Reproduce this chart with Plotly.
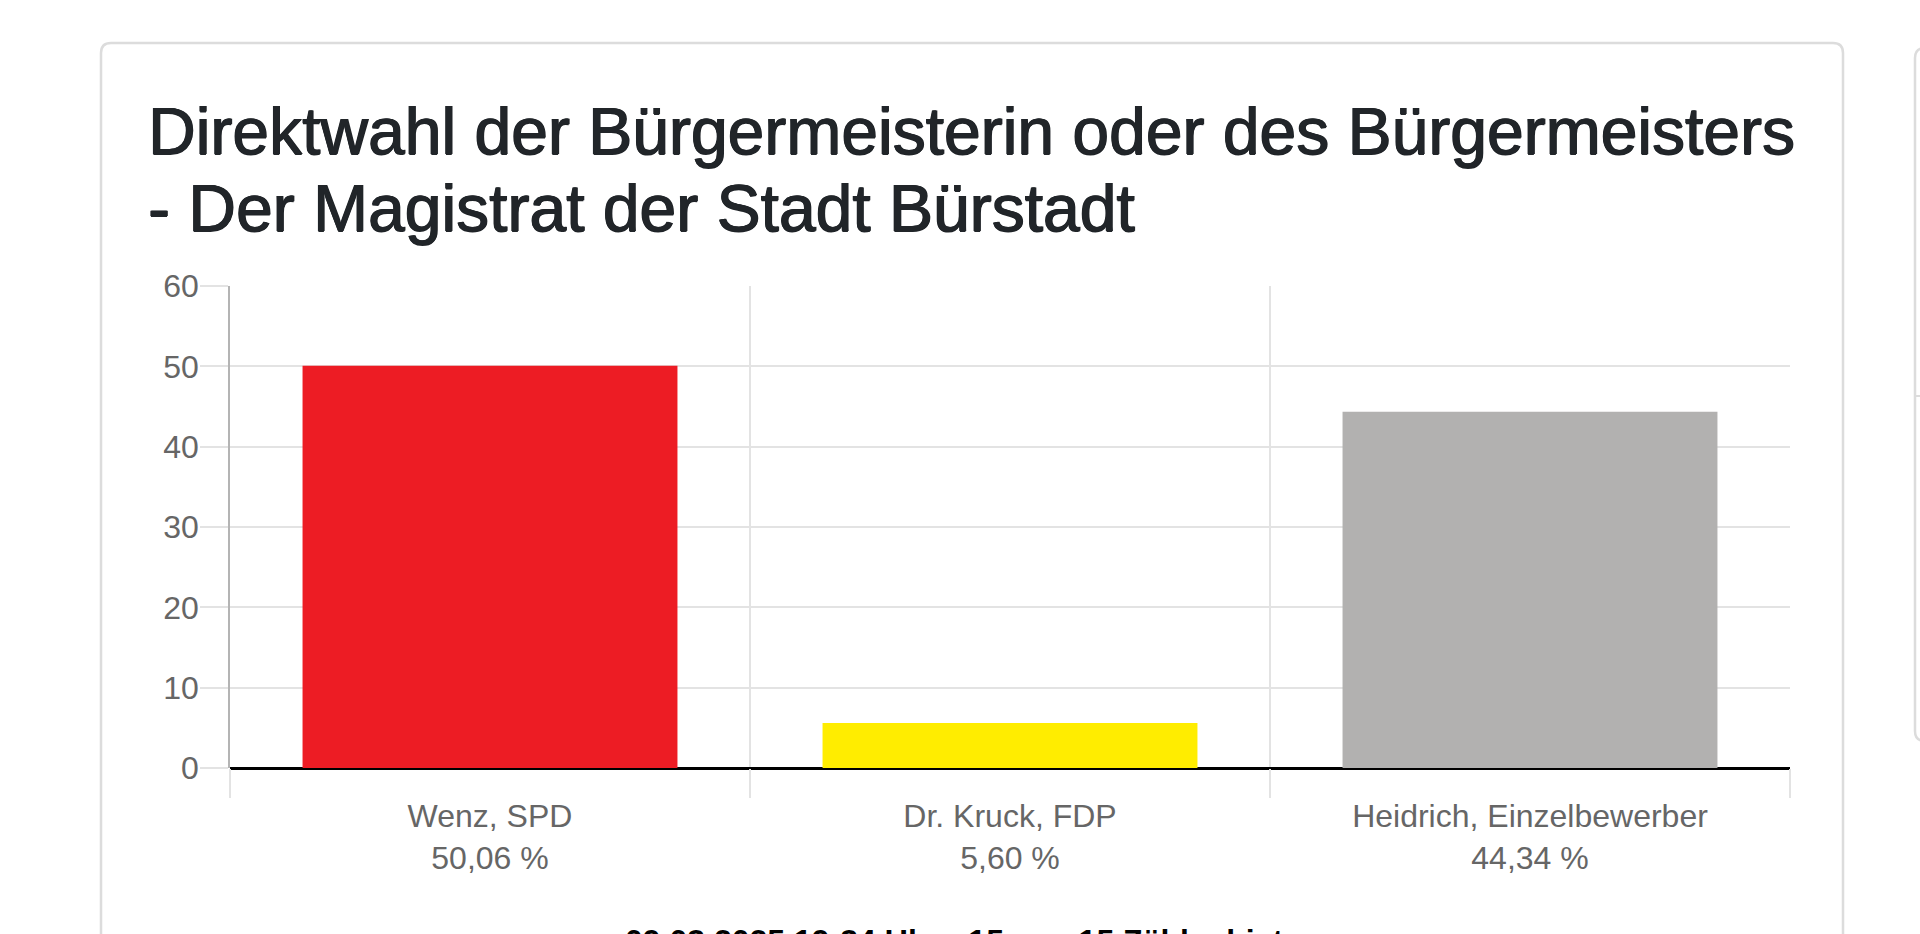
import plotly.graph_objects as go

# Ergebnis Direktwahl Bürstadt
CANDIDATES = ['Wenz, SPD', 'Dr. Kruck, FDP', 'Heidrich, Einzelbewerber']
PERCENT = [50.06, 5.60, 44.34]
BAR_COLORS = ['#ED1C24', '#FFED00', '#B2B1B0']
Y_TICKS = [0, 10, 20, 30, 40, 50, 60]

TITLE_LINES = ['Direktwahl der Bürgermeisterin oder des Bürgermeisters',
               '- Der Magistrat der Stadt Bürstadt']
FOOTER = '09.03.2025 19:34 Uhr - 15 von 15 Zählgebieten'

FONT = 'Liberation Sans'
GRID = '#e3e3e3'
TITLE_COLOR = '#212529'

W, H = 1920, 934

# plot area in page pixels
PL, PR, PT, PB = 230, 1790, 286, 768


def px_x(px):
    return (px - PL) / (PR - PL)


def px_y(py):
    return (PB - py) / (PB - PT)


def card_path(x0, y0, x1, y1, r):
    # rounded rectangle in paper coords
    pts = [
        f'M {px_x(x0 + r)} {px_y(y0)}',
        f'L {px_x(x1 - r)} {px_y(y0)}',
        f'Q {px_x(x1)} {px_y(y0)} {px_x(x1)} {px_y(y0 + r)}',
        f'L {px_x(x1)} {px_y(y1 - r)}',
        f'Q {px_x(x1)} {px_y(y1)} {px_x(x1 - r)} {px_y(y1)}',
        f'L {px_x(x0 + r)} {px_y(y1)}',
        f'Q {px_x(x0)} {px_y(y1)} {px_x(x0)} {px_y(y1 - r)}',
        f'L {px_x(x0)} {px_y(y0 + r)}',
        f'Q {px_x(x0)} {px_y(y0)} {px_x(x0 + r)} {px_y(y0)}',
        'Z',
    ]
    return ' '.join(pts)


labels = [f'{c}<br>' + f'{p:.2f}'.replace('.', ',') + ' %'
          for c, p in zip(CANDIDATES, PERCENT)]

fig = go.Figure(go.Bar(x=labels, y=PERCENT,
                       marker=dict(color=BAR_COLORS, line=dict(width=0)),
                       hoverinfo='skip'))

fig.update_layout(
    width=W, height=H,
    margin=dict(l=PL, r=W - PR, t=PT, b=H - PB),
    paper_bgcolor='white', plot_bgcolor='white',
    bargap=0.279, showlegend=False,
    font=dict(family=FONT, color='#666666'),
)

fig.update_xaxes(type='category', range=[-0.5, 2.5], tickson='boundaries',
                 ticks='outside', ticklen=29, tickwidth=1.5, tickcolor=GRID,
                 showgrid=True, gridcolor=GRID, gridwidth=1.5,
                 tickfont=dict(size=32, color='#666666'),
                 ticklabelstandoff=26,
                 showline=False, fixedrange=True)

fig.update_yaxes(range=[0, 60], tickvals=Y_TICKS,
                 ticks='outside', ticklen=28, tickwidth=1.5, tickcolor=GRID,
                 showgrid=True, gridcolor=GRID, gridwidth=1.5,
                 zeroline=True, zerolinecolor='black', zerolinewidth=3,
                 showline=True, linecolor='#b4b4b4', linewidth=1.5,
                 tickfont=dict(size=32, color='#666666'),
                 ticklabelstandoff=-5, fixedrange=True)

# Karten-Rahmen
fig.add_shape(type='path', xref='paper', yref='paper', layer='below',
              path=card_path(101, 43, 1843, 1100, 10),
              line=dict(color='#dcdcdc', width=2.5), fillcolor='white')
fig.add_shape(type='path', xref='paper', yref='paper', layer='below',
              path=card_path(1915, 48, 2100, 741, 10),
              line=dict(color='#dcdcdc', width=2.5), fillcolor='white')
fig.add_shape(type='line', xref='paper', yref='paper', layer='below',
              x0=px_x(1915), x1=px_x(1925), y0=px_y(396), y1=px_y(396),
              line=dict(color='#dcdcdc', width=2))

# Titel
shadow = ', '.join([f'0.8px 0 0 {TITLE_COLOR}', f'-0.6px 0 0 {TITLE_COLOR}',
                    f'0 0.5px 0 {TITLE_COLOR}'])
for i, line in enumerate(TITLE_LINES):
    fig.add_annotation(text=line, xref='paper', yref='paper',
                       x=px_x(146), y=px_y(131 + 77 * i),
                       xanchor='left', yanchor='middle', showarrow=False,
                       font=dict(family=FONT, size=66, color=TITLE_COLOR,
                                 shadow=shadow))

fig.add_annotation(text=f'<b>{FOOTER}</b>', xref='paper', yref='paper',
                   x=px_x(972), y=px_y(921), xanchor='center', yanchor='top',
                   showarrow=False,
                   font=dict(family=FONT, size=32, color='#000000'))

# no default body margin, so the figure fills the window exactly
fig.write_html('out.html', config={'displayModeBar': False},
               post_script="document.body.style.margin='0';"
                           "document.body.style.overflow='hidden';")
